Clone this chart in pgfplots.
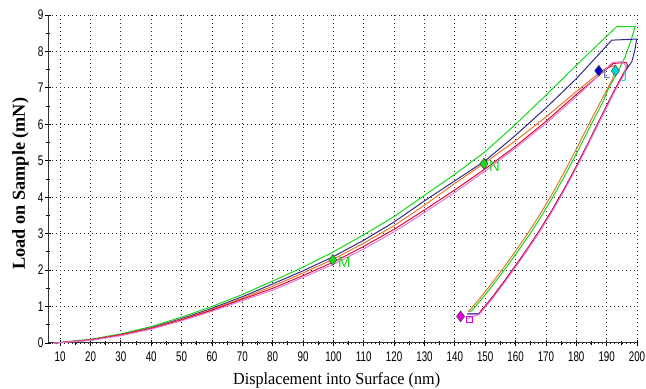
\documentclass[border=0pt]{standalone}
\usepackage{fontspec}
\setmainfont{Liberation Serif}
\newfontfamily\ticksf{Liberation Sans}
\usepackage{graphicx}
\usepackage{pgfplots}
\pgfplotsset{compat=1.18}
\definecolor{cgreen}{RGB}{25,215,25}
\definecolor{cnavy}{RGB}{45,45,135}
\definecolor{corange}{RGB}{225,120,45}
\definecolor{cred}{RGB}{225,10,45}
\definecolor{cviolet}{RGB}{225,120,225}
\definecolor{cpurple}{RGB}{95,40,200}
\definecolor{cdmag}{RGB}{220,0,220}
\definecolor{ccyan}{RGB}{0,215,215}
\definecolor{cblue}{RGB}{0,0,210}
\begin{document}
\begin{tikzpicture}
\begin{axis}[
  name=ax,
  scale only axis, width=589bp, height=328bp,
  xmin=6, xmax=200, ymin=0, ymax=9,
  axis lines=left, axis line style={-, black!80, line width=1pt},
  xtick={10,20,...,200}, ytick={0,1,...,9},
  minor x tick num=1, minor y tick num=1,
  tick align=center, major tick length=6bp, minor tick length=4bp,
  tick style={black, line width=0.8pt},
  grid=major, major grid style={black!85, line width=0.8pt, dash pattern=on 0.8pt off 3.2pt},
  /pgf/number format/assume math mode=true,
  xticklabel={\scalebox{0.7}[1]{\pgfmathprintnumber{\tick}}},
  yticklabel={\scalebox{0.72}[1]{\pgfmathprintnumber{\tick}}},
  xticklabel style={font=\ticksf\fontsize{14}{14}\selectfont, yshift=-2bp},
  yticklabel style={font=\ticksf\fontsize{14}{14}\selectfont, xshift=2bp},
  xlabel={\scalebox{0.955}[1]{Displacement into Surface (nm)}},
  ylabel={Load on Sample (mN)},
  xlabel style={font=\fontsize{17}{17}\selectfont, at={(axis description cs:0.49,-0.1128)}, anchor=center},
  ylabel style={font=\fontsize{18.3}{18.3}\selectfont\bfseries, at={(axis description cs:-0.0466,0.486)}, anchor=center},
  clip=false,
]
% green
\addplot[cgreen, line width=1pt] table {
8 0
10 0.02
20 0.1
30 0.25
40 0.45
50 0.71
60 1.0
70 1.33
80 1.7
90 2.08
100 2.5
110 2.97
120 3.47
130 4.05
140 4.63
150 5.25
160 6.0
170 6.8
180 7.62
193.3 8.68
199.4 8.68
198 8.3
196.1 7.85
193.5 7.42
190.6 6.98
188.8 6.62
184.8 5.98
180.8 5.32
176.8 4.68
172.8 4.08
168.8 3.52
164.8 3.0
160.8 2.52
156.8 2.06
152.8 1.62
148.8 1.2
145.5 0.88
144.5 0.86
};
% navy
\addplot[cnavy, line width=1pt] table {
8 0
10 0.01
20 0.09
30 0.23
40 0.42
50 0.67
60 0.95
70 1.27
80 1.62
90 1.98
100 2.37
110 2.82
120 3.32
130 3.9
140 4.45
150 5.0
160 5.7
170 6.45
180 7.25
191.7 8.31
199.9 8.34
199.2 8.0
198.3 7.72
196.3 7.48
192 6.84
188 6.17
184 5.5
180 4.84
176 4.22
172 3.64
168 3.1
164 2.6
160 2.12
156 1.66
152 1.22
148 0.8
144.1 0.8
};
% orange
\addplot[corange, line width=1pt] table {
8 0
10 0.01
20 0.09
30 0.23
40 0.41
50 0.65
60 0.92
70 1.23
80 1.56
90 1.92
100 2.3
110 2.74
120 3.22
130 3.78
140 4.38
150 4.95
160 5.55
170 6.2
180 6.9
187.4 7.4
190 7.55
193 7.62
192 7.25
188 6.62
184 5.98
180 5.32
176 4.68
172 4.08
168 3.52
164 3.0
160 2.52
156 2.06
152 1.62
148 1.2
144.5 0.86
};
% purple (unloading)
\addplot[cpurple, line width=1pt] table {
196.8 7.62
196 7.46
192 6.82
188 6.15
184 5.48
180 4.82
176 4.2
172 3.62
168 3.08
164 2.58
160 2.1
156 1.64
152 1.2
148 0.8
144.1 0.8
};
% red
\addplot[cred, line width=1pt] table {
8 0
10 0.01
20 0.08
30 0.22
40 0.4
50 0.63
60 0.9
70 1.2
80 1.5
90 1.85
100 2.22
110 2.65
120 3.12
130 3.65
140 4.2
150 4.78
160 5.4
170 6.08
180 6.82
192.2 7.67
196.5 7.7
197 7.6
196 7.47
192 6.84
188 6.17
184 5.5
180 4.84
176 4.22
172 3.64
168 3.1
164 2.6
160 2.12
156 1.66
152 1.22
148 0.82
};
% violet
\addplot[cviolet, line width=1pt] table {
8 0
10 0.01
20 0.07
30 0.2
40 0.38
50 0.61
60 0.87
70 1.16
80 1.45
90 1.8
100 2.16
110 2.58
120 3.05
130 3.58
140 4.13
150 4.72
160 5.35
170 6.02
180 6.76
192 7.7
195 7.72
196.5 7.6
195.8 7.38
192 6.8
188 6.13
184 5.46
180 4.8
176 4.18
172 3.6
168 3.06
164 2.56
160 2.08
156 1.62
152 1.18
148 0.78
145 0.7
144.4 0.66
};
% open square marker
\addplot[only marks, mark=square, mark size=3pt, cdmag, line width=0.9pt] table {
144.7 0.64
};
% diamonds with labels
\addplot[only marks, mark=diamond*, mark size=5.5pt, mark options={fill=cgreen, draw=black!70, line width=0.5pt},
  nodes near coords, point meta=explicit symbolic,
  every node near coord/.style={anchor=north west, text=cgreen, font=\ticksf\fontsize{15}{15}\selectfont, inner sep=0pt, xshift=5bp, yshift=3bp}]
  table[meta=lab] {
x y lab
99.8 2.28 M
149.6 4.92 N
};
\addplot[only marks, mark=diamond*, mark size=5.5pt, mark options={fill=cblue, draw=black!70, line width=0.5pt},
  nodes near coords, point meta=explicit symbolic,
  every node near coord/.style={anchor=north west, text=cnavy!70, font=\ticksf\fontsize{13}{13}\selectfont, inner sep=0pt, xshift=4bp, yshift=1bp}]
  table[meta=lab] {
x y lab
187.4 7.47 L
};
\addplot[only marks, mark=diamond*, mark size=5.5pt, mark options={fill=ccyan, draw=black!70, line width=0.5pt},
  nodes near coords, point meta=explicit symbolic,
  every node near coord/.style={anchor=north west, text=ccyan, font=\ticksf\fontsize{13}{13}\selectfont, inner sep=0pt, xshift=5bp, yshift=-2bp}]
  table[meta=lab] {
x y lab
192.9 7.47 J
};
\addplot[only marks, mark=diamond*, mark size=5.5pt, mark options={fill=cdmag, draw=black!70, line width=0.5pt}] table {
141.9 0.73
};
\end{axis}
\pgfresetboundingbox
\path ([shift={(-48bp,-46bp)}]ax.south west) rectangle ([shift={(9bp,15bp)}]ax.north east);
\end{tikzpicture}
\end{document}
